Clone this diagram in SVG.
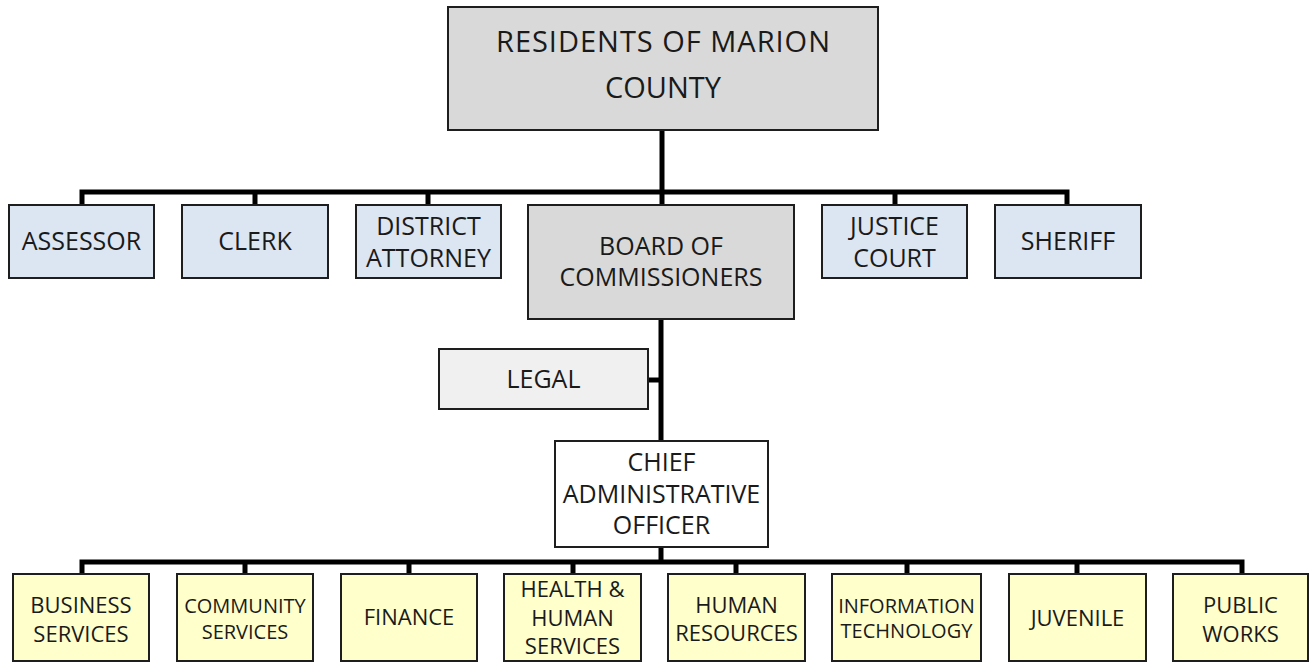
<svg xmlns="http://www.w3.org/2000/svg" width="1310" height="662" viewBox="0 0 1310 662">
<style>
  .box{stroke:#1e1e1e;stroke-width:2}
  .gray{fill:#d9d9d9}
  .blue{fill:#dce6f2}
  .yel{fill:#ffffcc}
  .leg{fill:#f0f0f0}
  .wht{fill:#ffffff}
  text{font-family:"Open Sans","Noto Sans",sans-serif;fill:#1a1a1a;text-anchor:middle}
  .t29{font-size:29px}
  .t25{font-size:25px}
  .t22{font-size:22px}
  .t20{font-size:20px}
  .ln{fill:none;stroke:#000;stroke-width:5;stroke-linejoin:miter;stroke-linecap:butt}
</style>
<rect width="1310" height="662" fill="#ffffff"/>
<g id="connectors">
  <path class="ln" d="M662,130 V192"/>
  <path class="ln" d="M82,205 V192 H1067 V205"/>
  <path class="ln" d="M255,192 V205 M428,192 V205 M662,192 V205 M895,192 V205"/>
  <path class="ln" d="M661,319 V441"/>
  <path class="ln" d="M648,380 H661"/>
  <path class="ln" d="M661,547 V562"/>
  <path class="ln" d="M82,574 V562 H1242 V574"/>
  <path class="ln" d="M245,562 V574 M409,562 V574 M573,562 V574 M736,562 V574 M907,562 V574 M1077,562 V574"/>
</g>
<g id="residents">
  <rect class="box gray" x="448" y="7" width="430" height="123"/>
  <text class="t29" x="663" y="52" textLength="334" lengthAdjust="spacing">RESIDENTS OF MARION</text>
  <text class="t29" x="663" y="98">COUNTY</text>
</g>
<g id="assessor">
  <rect class="box blue" x="9" y="205" width="145" height="73"/>
  <text class="t25" x="81.5" y="250">ASSESSOR</text>
</g>
<g id="clerk">
  <rect class="box blue" x="182" y="205" width="146" height="73"/>
  <text class="t25" x="255" y="250">CLERK</text>
</g>
<g id="district-attorney">
  <rect class="box blue" x="356" y="205" width="145" height="73"/>
  <text class="t25" x="428.5" y="235">DISTRICT</text>
  <text class="t25" x="428.5" y="267">ATTORNEY</text>
</g>
<g id="board">
  <rect class="box gray" x="528" y="205" width="266" height="114"/>
  <text class="t25" x="661" y="255">BOARD OF</text>
  <text class="t25" x="661" y="286">COMMISSIONERS</text>
</g>
<g id="justice-court">
  <rect class="box blue" x="822" y="205" width="145" height="73"/>
  <text class="t25" x="894.5" y="235">JUSTICE</text>
  <text class="t25" x="894.5" y="267">COURT</text>
</g>
<g id="sheriff">
  <rect class="box blue" x="995" y="205" width="146" height="73"/>
  <text class="t25" x="1068" y="250">SHERIFF</text>
</g>
<g id="legal">
  <rect class="box leg" x="439" y="349" width="209" height="60"/>
  <text class="t25" x="543.5" y="388">LEGAL</text>
</g>
<g id="cao">
  <rect class="box wht" x="555" y="441" width="213" height="106"/>
  <text class="t25" x="661.5" y="471">CHIEF</text>
  <text class="t25" x="661.5" y="503">ADMINISTRATIVE</text>
  <text class="t25" x="661.5" y="534">OFFICER</text>
</g>
<g id="business-services">
  <rect class="box yel" x="13" y="574" width="136" height="87"/>
  <text class="t22" x="81" y="613">BUSINESS</text>
  <text class="t22" x="81" y="642">SERVICES</text>
</g>
<g id="community-services">
  <rect class="box yel" x="177" y="574" width="136" height="87"/>
  <text class="t20" x="245" y="613">COMMUNITY</text>
  <text class="t20" x="245" y="639">SERVICES</text>
</g>
<g id="finance">
  <rect class="box yel" x="341" y="574" width="136" height="87"/>
  <text class="t22" x="409" y="625">FINANCE</text>
</g>
<g id="health-human-services">
  <rect class="box yel" x="504" y="574" width="137" height="87"/>
  <text class="t22" x="572.5" y="597">HEALTH &amp;</text>
  <text class="t22" x="572.5" y="626">HUMAN</text>
  <text class="t22" x="572.5" y="654">SERVICES</text>
</g>
<g id="human-resources">
  <rect class="box yel" x="668" y="574" width="137" height="87"/>
  <text class="t22" x="736.5" y="613">HUMAN</text>
  <text class="t22" x="736.5" y="641">RESOURCES</text>
</g>
<g id="information-technology">
  <rect class="box yel" x="832" y="574" width="149" height="87"/>
  <text class="t20" x="906.5" y="613">INFORMATION</text>
  <text class="t20" x="906.5" y="638">TECHNOLOGY</text>
</g>
<g id="juvenile">
  <rect class="box yel" x="1009" y="574" width="137" height="87"/>
  <text class="t22" x="1077.5" y="626">JUVENILE</text>
</g>
<g id="public-works">
  <rect class="box yel" x="1173" y="574" width="135" height="87"/>
  <text class="t22" x="1240.5" y="613">PUBLIC</text>
  <text class="t22" x="1240.5" y="642">WORKS</text>
</g>
</svg>
